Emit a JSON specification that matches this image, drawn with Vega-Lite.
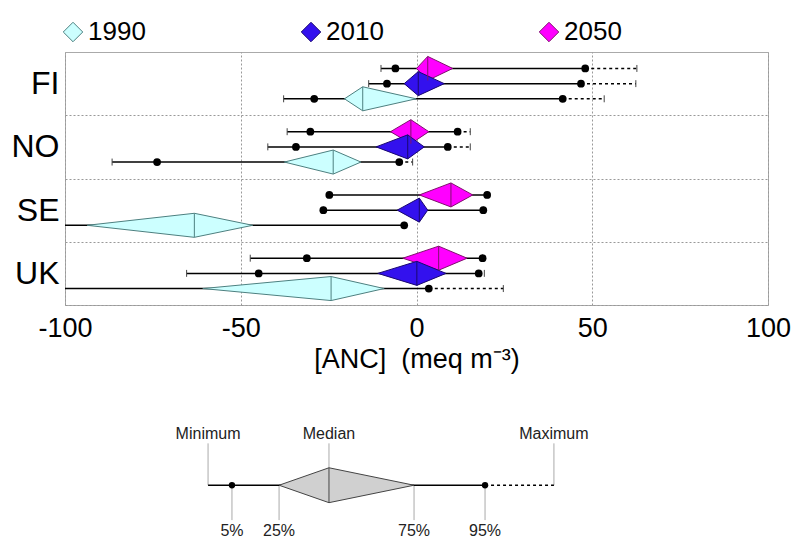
{
  "$schema": "https://vega.github.io/schema/vega-lite/v6.json",
  "padding": {"left": 10, "top": 19, "right": 5, "bottom": 5},
  "spacing": 25,
  "config": {
    "font": "Liberation Sans",
    "view": {"stroke": "#aaaaaa", "strokeWidth": 1}
  },
  "datasets": {
    "anc": [
      {"country": "FI", "year": 2050, "min": -10.1, "p5": -6.0, "p25": 0.0, "med": 3.2, "p75": 10.3, "p95": 48.0, "max": 62.7},
      {"country": "FI", "year": 2010, "min": -13.6, "p5": -8.4, "p25": -3.5, "med": 0.5, "p75": 7.9, "p95": 46.8, "max": 62.4},
      {"country": "FI", "year": 1990, "min": -37.8, "p5": -29.1, "p25": -20.5, "med": -15.3, "p75": -0.1, "p95": 41.6, "max": 53.4},
      {"country": "NO", "year": 2050, "min": -36.8, "p5": -30.2, "p25": -7.4, "med": -1.6, "p75": 3.5, "p95": 11.7, "max": 15.3},
      {"country": "NO", "year": 2010, "min": -42.3, "p5": -34.3, "p25": -11.5, "med": -2.5, "p75": 2.2, "p95": 8.9, "max": 15.3},
      {"country": "NO", "year": 1990, "min": -86.6, "p5": -73.8, "p25": -37.6, "med": -23.7, "p75": -15.8, "p95": -4.9, "max": -1.1},
      {"country": "SE", "year": 2050, "min": -24.8, "p5": -24.8, "p25": 0.8, "med": 9.8, "p75": 16.0, "p95": 20.1, "max": 20.1},
      {"country": "SE", "year": 2010, "min": -26.5, "p5": -26.5, "p25": -5.5, "med": 0.8, "p75": 3.2, "p95": 19.0, "max": 19.0},
      {"country": "SE", "year": 1990, "min": -140, "p5": -120, "p25": -93.7, "med": -63.2, "p75": -46.6, "p95": -3.5, "max": -3.5},
      {"country": "UK", "year": 2050, "min": -47.3, "p5": -31.2, "p25": -3.9, "med": 6.3, "p75": 14.4, "p95": 18.8, "max": 18.8},
      {"country": "UK", "year": 2010, "min": -65.4, "p5": -44.9, "p25": -11.0, "med": 0.1, "p75": 8.4, "p95": 17.7, "max": 19.3},
      {"country": "UK", "year": 1990, "min": -130, "p5": -110, "p25": -60.8, "med": -24.3, "p75": -9.2, "p95": 3.5, "max": 24.7}
    ],
    "key": [
      {"min": -59.3, "p5": -52.5, "p25": -39.1, "med": -24.9, "p75": -0.7, "p95": 19.5, "max": 39.1}
    ],
    "keylabels": [
      {"label": "Minimum", "v": -59.3, "side": "top"},
      {"label": "Median", "v": -24.9, "side": "top"},
      {"label": "Maximum", "v": 39.1, "side": "top"},
      {"label": "5%", "v": -52.5, "side": "bottom"},
      {"label": "25%", "v": -39.1, "side": "bottom"},
      {"label": "75%", "v": -0.7, "side": "bottom"},
      {"label": "95%", "v": 19.5, "side": "bottom"}
    ]
  },
  "vconcat": [
    {
      "width": 703,
      "height": 253,
      "data": {"name": "anc"},
      "transform": [
        {"calculate": "indexof(['FI','NO','SE','UK'], datum.country) + 0.5 + (indexof([2050,2010,1990], datum.year) - 1) * 0.24", "as": "yc"},
        {"calculate": "datum.yc - 0.19", "as": "ytop"},
        {"calculate": "datum.yc + 0.19", "as": "ybot"}
      ],
      "layer": [
        {
          "mark": {"type": "rule", "color": "black", "strokeWidth": 1.5, "clip": true},
          "encoding": {
            "x": {
              "field": "min", "type": "quantitative",
              "scale": {"domain": [-100, 100], "nice": false},
              "title": "[ANC]\u00a0\u00a0(meq m⁻³)",
              "axis": {
                "values": [-100, -50, 0, 50, 100],
                "labelExpr": "datum.value < 0 ? '-' + abs(datum.value) : '' + datum.value",
                "labelFontSize": 27, "labelColor": "black", "labelFlush": false,
                "ticks": false, "tickSize": 0, "labelPadding": 10, "domain": false,
                "grid": true, "gridColor": "#999999", "gridDash": [2, 2],
                "titleFontSize": 27, "titleFontWeight": "normal", "titleColor": "black", "titlePadding": 5
              }
            },
            "x2": {"field": "p95"},
            "y": {
              "field": "yc", "type": "quantitative",
              "scale": {"domain": [0, 4], "reverse": true, "nice": false, "zero": false},
              "title": null,
              "axis": {
                "values": [1, 2, 3, 4],
                "labelExpr": "['FI','NO','SE','UK'][datum.value - 1]",
                "labelFontSize": 32, "labelColor": "black", "labelOverlap": false,
                "labelOffset": -31.6, "labelBaseline": "middle",
                "ticks": false, "tickSize": 0, "labelPadding": 6, "domain": false,
                "grid": true, "gridColor": "#999999", "gridDash": [2, 2]
              }
            }
          }
        },
        {
          "mark": {"type": "rule", "color": "black", "strokeWidth": 1.5, "strokeDash": [3, 3], "clip": true},
          "encoding": {
            "x": {"field": "p95", "type": "quantitative"},
            "x2": {"field": "max"},
            "y": {"field": "yc", "type": "quantitative"}
          }
        },
        {
          "transform": [
            {"fold": ["min", "max"], "as": ["stat", "v"]},
            {"calculate": "datum.yc - 0.055", "as": "t1"},
            {"calculate": "datum.yc + 0.055", "as": "t2"}
          ],
          "mark": {"type": "rule", "color": "#444444", "strokeWidth": 1, "clip": true},
          "encoding": {
            "x": {"field": "v", "type": "quantitative"},
            "y": {"field": "t1", "type": "quantitative"},
            "y2": {"field": "t2"}
          }
        },
        {
          "transform": [
            {"fold": ["p25", "med", "p75"], "as": ["stat", "v"]},
            {"calculate": "datum.stat === 'med' ? datum.ytop : datum.yc", "as": "a1"},
            {"calculate": "datum.stat === 'med' ? datum.ybot : datum.yc", "as": "a2"}
          ],
          "mark": {"type": "area", "orient": "vertical", "strokeWidth": 1, "clip": true, "opacity": 1},
          "encoding": {
            "x": {"field": "v", "type": "quantitative"},
            "y": {"field": "a1", "type": "quantitative"},
            "y2": {"field": "a2"},
            "detail": {"field": "country", "type": "nominal"},
            "fill": {
              "field": "year", "type": "nominal",
              "scale": {"domain": [1990, 2010, 2050], "range": ["#ccffff", "#3311ee", "#ff00ff"]},
              "legend": {
                "orient": "none", "legendX": -5, "legendY": -33,
                "direction": "horizontal", "columns": 3, "columnPadding": 152,
                "title": null, "symbolType": "diamond", "symbolSize": 380,
                "symbolStrokeColor": "#4d8080", "symbolStrokeWidth": 1,
                "labelFontSize": 26, "labelColor": "black", "labelOffset": 2
              }
            },
            "stroke": {
              "field": "year", "type": "nominal",
              "scale": {"domain": [1990, 2010, 2050], "range": ["#4d8080", "#1a0870", "#80106e"]},
              "legend": null
            }
          }
        },
        {
          "mark": {"type": "rule", "strokeWidth": 1, "clip": true},
          "encoding": {
            "x": {"field": "med", "type": "quantitative"},
            "y": {"field": "ytop", "type": "quantitative"},
            "y2": {"field": "ybot"},
            "stroke": {"field": "year", "type": "nominal", "legend": null}
          }
        },
        {
          "transform": [{"fold": ["p5", "p95"], "as": ["stat", "v"]}],
          "mark": {"type": "point", "filled": true, "color": "black", "size": 60, "opacity": 1, "clip": true},
          "encoding": {
            "x": {"field": "v", "type": "quantitative"},
            "y": {"field": "yc", "type": "quantitative"}
          }
        }
      ]
    },
    {
      "width": 703,
      "height": 157,
      "view": {"stroke": null},
      "layer": [
        {
          "data": {"name": "keylabels"},
          "transform": [
            {"calculate": "datum.side === 'top' ? -2.4 : 0", "as": "l1"},
            {"calculate": "datum.side === 'top' ? (datum.label === 'Median' ? -1 : 0) : 2.0", "as": "l2"}
          ],
          "mark": {"type": "rule", "color": "#aaaaaa", "strokeWidth": 1},
          "encoding": {
            "x": {"field": "v", "type": "quantitative", "scale": {"domain": [-100, 100], "nice": false}, "axis": null},
            "y": {"field": "l1", "type": "quantitative", "scale": {"domain": [-5, 4], "reverse": true, "nice": false, "zero": false}, "axis": null},
            "y2": {"field": "l2"}
          }
        },
        {
          "data": {"name": "key"},
          "transform": [{"calculate": "0", "as": "c"}],
          "mark": {"type": "rule", "color": "black", "strokeWidth": 1.5},
          "encoding": {
            "x": {"field": "min", "type": "quantitative"},
            "x2": {"field": "p95"},
            "y": {"field": "c", "type": "quantitative"}
          }
        },
        {
          "data": {"name": "key"},
          "transform": [{"calculate": "0", "as": "c"}],
          "mark": {"type": "rule", "color": "black", "strokeWidth": 1.5, "strokeDash": [3, 3]},
          "encoding": {
            "x": {"field": "p95", "type": "quantitative"},
            "x2": {"field": "max"},
            "y": {"field": "c", "type": "quantitative"}
          }
        },
        {
          "data": {"name": "key"},
          "transform": [
            {"fold": ["p25", "med", "p75"], "as": ["stat", "v"]},
            {"calculate": "datum.stat === 'med' ? -1 : 0", "as": "a1"},
            {"calculate": "datum.stat === 'med' ? 1 : 0", "as": "a2"}
          ],
          "mark": {"type": "area", "orient": "vertical", "fill": "#d0d0d0", "stroke": "#444444", "strokeWidth": 1, "opacity": 1},
          "encoding": {
            "x": {"field": "v", "type": "quantitative"},
            "y": {"field": "a1", "type": "quantitative"},
            "y2": {"field": "a2"}
          }
        },
        {
          "data": {"name": "key"},
          "transform": [{"calculate": "-1", "as": "m1"}, {"calculate": "1", "as": "m2"}],
          "mark": {"type": "rule", "color": "#444444", "strokeWidth": 1},
          "encoding": {
            "x": {"field": "med", "type": "quantitative"},
            "y": {"field": "m1", "type": "quantitative"},
            "y2": {"field": "m2"}
          }
        },
        {
          "data": {"name": "key"},
          "transform": [{"fold": ["p5", "p95"], "as": ["stat", "v"]}, {"calculate": "0", "as": "c"}],
          "mark": {"type": "point", "filled": true, "color": "black", "size": 40, "opacity": 1},
          "encoding": {
            "x": {"field": "v", "type": "quantitative"},
            "y": {"field": "c", "type": "quantitative"}
          }
        },
        {
          "data": {"name": "keylabels"},
          "transform": [{"calculate": "datum.side === 'top' ? -2.95 : 2.62", "as": "ty"}],
          "mark": {"type": "text", "fontSize": 16, "baseline": "middle", "color": "#222222"},
          "encoding": {
            "x": {"field": "v", "type": "quantitative"},
            "y": {"field": "ty", "type": "quantitative"},
            "text": {"field": "label", "type": "nominal"}
          }
        }
      ]
    }
  ]
}
